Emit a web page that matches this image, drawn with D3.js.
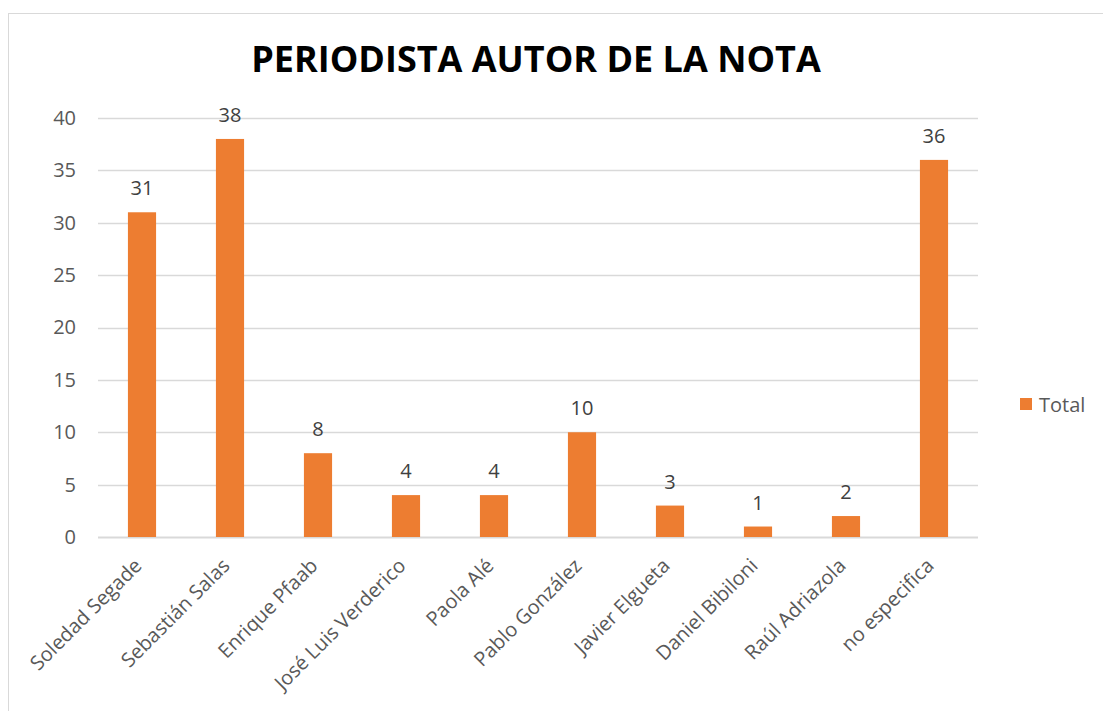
<!DOCTYPE html>
<html>
<head>
<meta charset="utf-8">
<script src="https://cdn.jsdelivr.net/npm/d3@7"></script>
<style>
  body { margin: 0; background: #fff; }
  svg { font-family: "Open Sans", sans-serif; }
</style>
</head>
<body>
<svg id="chart" width="1103" height="711"></svg>
<script>
var categories = ['Soledad Segade', 'Sebastián Salas', 'Enrique Pfaab', 'José Luis Verderico',
  'Paola Alé', 'Pablo González', 'Javier Elgueta', 'Daniel Bibiloni', 'Raúl Adriazola', 'no especifica'];
var totals = [31, 38, 8, 4, 4, 10, 3, 1, 2, 36];
var yTicks = [0, 5, 10, 15, 20, 25, 30, 35, 40];
var seriesName = 'Total';
var title = 'PERIODISTA AUTOR DE LA NOTA';

var svg = d3.select('#chart');
var orange = '#ed7d31', grey = '#595959', gridColor = '#d9d9d9';

// chart frame
svg.append('rect')
  .attr('x', 8.5).attr('y', 13.5)
  .attr('width', 1110).attr('height', 720)
  .attr('fill', 'none').attr('stroke', '#d9d9d9');

var x = d3.scaleBand()
  .domain(categories)
  .range([98, 978])
  .paddingInner(0.68)
  .paddingOuter(0.34);

var y = d3.scaleLinear()
  .domain([0, 40])
  .range([537, 118]);

// gridlines
svg.append('g').selectAll('line')
  .data(yTicks)
  .enter().append('line')
    .attr('x1', 98).attr('x2', 978)
    .attr('y1', function(d) { return Math.round(y(d)) + 0.5; })
    .attr('y2', function(d) { return Math.round(y(d)) + 0.5; })
    .attr('stroke', gridColor)
    .attr('stroke-width', function(d) { return d === 0 ? 2 : 1.3; });

// y axis labels
var yAxis = d3.axisLeft(y).tickValues(yTicks).tickSize(0).tickPadding(0);
svg.append('g')
  .attr('transform', 'translate(76,0)')
  .call(yAxis)
  .call(function(g) { g.select('.domain').remove(); })
  .selectAll('text')
    .attr('font-size', 20)
    .attr('font-family', '"Open Sans", sans-serif')
    .attr('fill', grey);

// bars
svg.append('g').selectAll('rect')
  .data(totals)
  .enter().append('rect')
    .attr('x', function(d, i) { return x(categories[i]); })
    .attr('y', function(d) { return y(d); })
    .attr('width', x.bandwidth())
    .attr('height', function(d) { return y(0) - y(d); })
    .attr('fill', orange);

// data labels
svg.append('g').selectAll('text')
  .data(totals)
  .enter().append('text')
    .attr('x', function(d, i) { return x(categories[i]) + x.bandwidth() / 2; })
    .attr('y', function(d) { return y(d) - 17; })
    .attr('text-anchor', 'middle')
    .attr('font-size', 20)
    .attr('fill', '#404040')
    .text(function(d) { return d; });

// category labels
svg.append('g').selectAll('text')
  .data(categories)
  .enter().append('text')
    .attr('transform', function(d) {
      return 'translate(' + (x(d) + x.bandwidth() / 2 + 1) + ',567) rotate(-45)';
    })
    .attr('text-anchor', 'end')
    .attr('font-size', 20)
    .attr('fill', grey)
    .text(function(d) { return d; });

// title
svg.append('text')
  .attr('x', 536).attr('y', 72)
  .attr('text-anchor', 'middle')
  .attr('font-size', 36)
  .attr('font-weight', 'bold')
  .attr('fill', '#000')
  .text(title);

// legend
var legend = svg.append('g').attr('transform', 'translate(1020,398)');
legend.append('rect')
  .attr('width', 12).attr('height', 12)
  .attr('fill', orange);
legend.append('text')
  .attr('x', 19).attr('y', 14)
  .attr('font-size', 20)
  .attr('fill', grey)
  .text(seriesName);
</script>
</body>
</html>
